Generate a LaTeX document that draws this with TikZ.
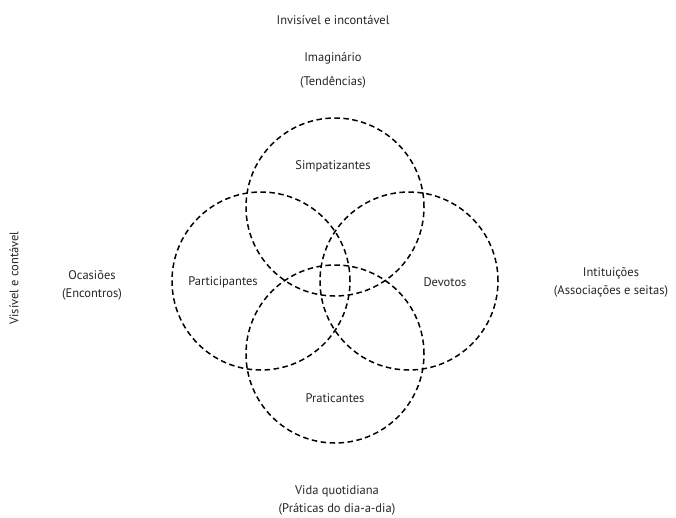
\documentclass[tikz,border=0pt]{standalone}
\usepackage{fontspec}
\setmainfont{PT Sans}
\begin{document}
\begin{tikzpicture}[x=1pt,y=-1pt,
  ring/.style={draw=black, line width=1.5pt, dash pattern=on 5.5pt off 3.5pt, circle, minimum size=178pt, inner sep=0pt},
  lbl/.style={font=\fontsize{12.5}{18}\selectfont, text=black!85, align=center, inner sep=0pt},
  ]
\useasboundingbox (0,0) rectangle (676,517);
\fill[white] (0,0) rectangle (676,517);
\node[ring] (top) at (335,207) {};
\node[ring] (left) at (261,281) {};
\node[ring] (right) at (409,281) {};
\node[ring] (bot) at (335,354) {};
\node[lbl] (simp) at (333,166) {Simpatizantes};
\node[lbl] (part) at (223,282) {Participantes};
\node[lbl] (dev) at (445,282) {Devotos};
\node[lbl] (prat) at (335,398) {Praticantes};
\node[lbl] (inv) at (333,20) {Invisível e incontável};
\node[lbl] (imag) at (333,58) {Imaginário};
\node[lbl] (tend) at (333,82) {(Tendências)};
\node[lbl] (oca) at (92,285) {Ocasiões\\(Encontros)};
\node[lbl] (inst) at (611,282) {Intituições\\(Associações e seitas)};
\node[lbl] (vida) at (337,500) {Vida quotidiana\\(Práticas do dia-a-dia)};
\node[lbl, rotate=90] (vis) at (14,278) {Visível e contável};
\end{tikzpicture}
\end{document}
